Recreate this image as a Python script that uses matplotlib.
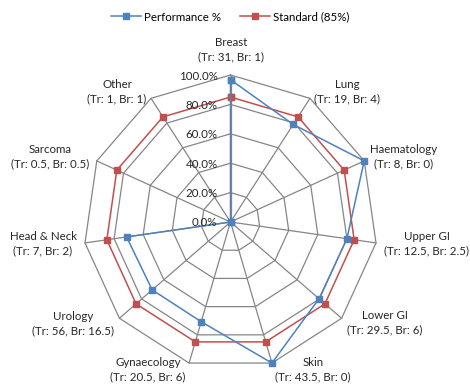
import numpy as np
import matplotlib
matplotlib.use("Agg")
import matplotlib.pyplot as plt

plt.rcParams['font.family'] = ['Lato', 'DejaVu Sans']

categories = ["Breast", "Lung", "Haematology", "Upper GI", "Lower GI", "Skin",
              "Gynaecology", "Urology", "Head & Neck", "Sarcoma", "Other"]
treated = ["31", "19", "8", "12.5", "29.5", "43.5", "20.5", "56", "7", "0.5", "1"]
breaches = ["1", "4", "0", "2.5", "6", "0", "6", "16.5", "2", "0.5", "1"]
performance = [96.8, 78.9, 100.0, 80.0, 79.7, 100.0, 70.7, 70.5, 71.4, 0.0, 0.0]
standard = [85.0] * 11
ticks = [0, 20, 40, 60, 80, 100]

W, H = 470, 387
cx, cy, R = 230.5, 222.0, 147.0

fig = plt.figure(figsize=(W / 100, H / 100), dpi=100)
ax = fig.add_axes([0, 0, 1, 1])
ax.set_xlim(-cx / R, (W - cx) / R)
ax.set_ylim(-(H - cy) / R, cy / R)
ax.axis("off")

n = len(categories)
ang = np.arange(n) * 2 * np.pi / n


def to_xy(vals):
    v = np.asarray(vals, float) / 100.0
    return v * np.sin(ang), v * np.cos(ang)


def px(x, y):
    return (x - cx) / R, (cy - y) / R


grid_c = "#868686"
for t in ticks[1:]:
    gx, gy = to_xy([t] * n)
    ax.plot(np.append(gx, gx[0]), np.append(gy, gy[0]), color=grid_c, lw=0.9, zorder=1)
ox, oy = to_xy([100] * n)
for x, y in zip(ox, oy):
    ax.plot([0, x], [0, y], color=grid_c, lw=0.9, zorder=1)

blue, red = "#4F81BD", "#C0504D"
px_, py_ = to_xy(performance)
sx, sy = to_xy(standard)
l1, = ax.plot(np.append(px_, px_[0]), np.append(py_, py_[0]), color=blue, lw=1.1,
              marker="s", ms=4.8, zorder=4, label="Performance %")
l2, = ax.plot(np.append(sx, sx[0]), np.append(sy, sy[0]), color=red, lw=1.1,
              marker="s", ms=4.8, zorder=3, label="Standard (85%)")

# radial axis labels just left of the top spoke
for t in ticks:
    ax.text(-13 / R, t / 100 - 1 / R, f"{t:.1f}%", ha="right", va="center",
            fontsize=8.3, color="#262626", zorder=5)

# category labels
label_pos = [(231, 50), (347, 92), (404, 157), (427, 244), (385, 323), (313, 370),
             (148, 370), (73, 324), (43, 244), (50, 157), (117, 92)]
for name, tr, br, (lx, ly) in zip(categories, treated, breaches, label_pos):
    x, y = px(lx, ly)
    ax.text(x, y, f"{name}\n(Tr: {tr}, Br: {br})", ha="center", va="center",
            fontsize=8.3, color="#262626", linespacing=1.35)

fig.legend(handles=[l1, l2], loc="upper center", bbox_to_anchor=(0.49, 1.0),
           ncol=2, frameon=False, fontsize=8.3, handlelength=2.6,
           columnspacing=1.6, handletextpad=0.3, borderaxespad=0.6)

fig.savefig("out.png", dpi=100)
